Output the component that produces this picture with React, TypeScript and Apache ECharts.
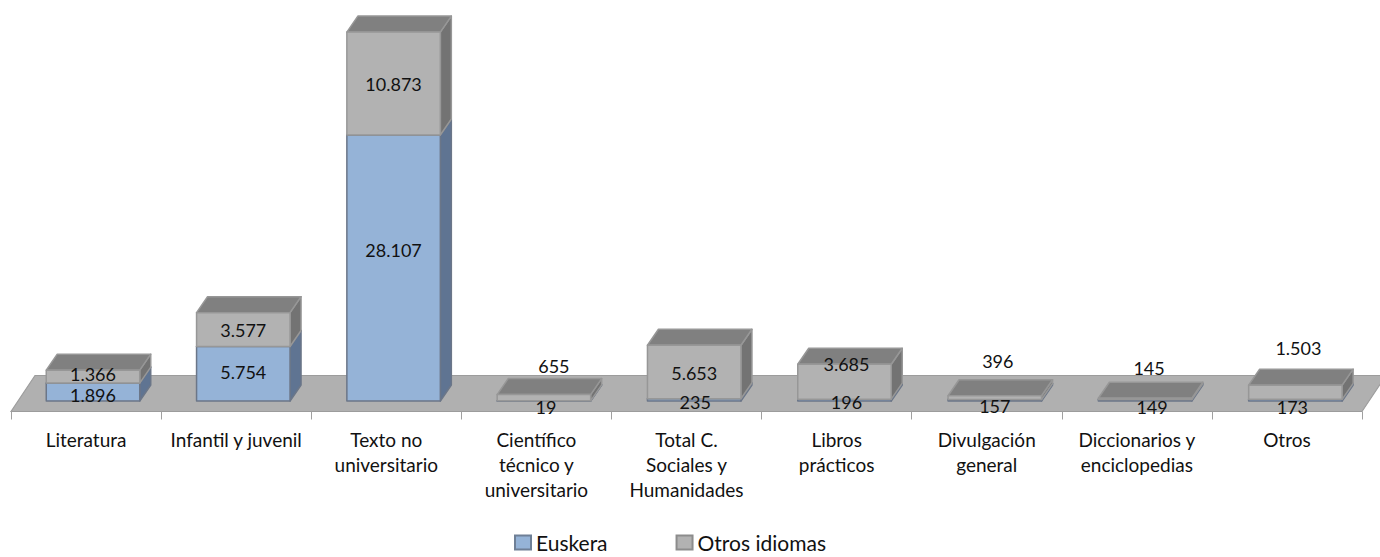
import React, { useEffect, useRef } from "react";
import * as echarts from "echarts";

const categories = [
  "Literatura",
  "Infantil y juvenil",
  "Texto no\nuniversitario",
  "Científico\ntécnico y\nuniversitario",
  "Total C.\nSociales y\nHumanidades",
  "Libros\nprácticos",
  "Divulgación\ngeneral",
  "Diccionarios y\nenciclopedias",
  "Otros",
];
const euskera = [1896, 5754, 28107, 19, 235, 196, 157, 149, 173];
const otros = [1366, 3577, 10873, 655, 5653, 3685, 396, 145, 1503];

// hand-placed label nudges (px from the centre of each segment's front face)
const euskeraNudgeX = [0, 0, 0, 2, 1, 2, 0, 7, -3];
const euskeraNudgeY = [3, -2, -18, 6, 2, 2, 6, 7, 7];
const otrosNudgeX = [0, 0, 0, 10, 0, 2, 3, 4, 3];
const otrosNudgeY = [-2.5, 0, 0, -32, 1, -18, -37, -31, -44];

const FONT = "Lato";
const DEPTH_X = 11;
const DEPTH_Y = -16;
const BAR_RATIO = 0.622;

const fmt = (v: number) => String(v).replace(/\B(?=(\d{3})+$)/g, ".");

const makeRender =
  (
    values: number[],
    bases: number[],
    nudgeX: number[],
    nudgeY: number[],
    front: string,
    side: string,
    top: string,
    stroke: string
  ) =>
  (params: any, api: any) => {
    const i = params.dataIndex;
    const base = bases[i];
    const val = values[i];
    const p0 = api.coord([api.value(0), base]);
    const p1 = api.coord([api.value(0), base + val]);
    const w = api.size([1, 0])[0] * BAR_RATIO;
    const l = p0[0] - w / 2;
    const r = p0[0] + w / 2;
    const yB = p0[1];
    const yT = p1[1];
    const dx = DEPTH_X;
    const dy = DEPTH_Y;
    const st = { stroke, lineWidth: 1.5, lineJoin: "round" };
    return {
      type: "group",
      children: [
        {
          type: "polygon",
          shape: { points: [[r, yB], [r + dx, yB + dy], [r + dx, yT + dy], [r, yT]] },
          style: { fill: side, ...st },
        },
        {
          type: "polygon",
          shape: { points: [[l, yT], [r, yT], [r + dx, yT + dy], [l + dx, yT + dy]] },
          style: { fill: top, ...st },
        },
        {
          type: "polygon",
          shape: { points: [[l, yB], [r, yB], [r, yT], [l, yT]] },
          style: { fill: front, ...st },
        },
        {
          type: "text",
          z2: 100,
          style: {
            x: p0[0] + nudgeX[i],
            y: (yB + yT) / 2 + nudgeY[i],
            text: fmt(val),
            fill: "#111111",
            font: `18px ${FONT}`,
            align: "center",
            verticalAlign: "middle",
          },
        },
      ],
    };
  };

export default function App() {
  const ref = useRef<HTMLDivElement>(null);
  useEffect(() => {
    document.body.style.margin = "0";
    const chart = echarts.init(ref.current!, undefined, { renderer: "svg" });
    const zeros = euskera.map(() => 0);
    chart.setOption({
      animation: false,
      backgroundColor: "#ffffff",
      textStyle: { fontFamily: FONT },
      grid: [
        { left: 17.85, width: 1352.7, top: 22.4, height: 378.6 },
        { left: 11, width: 1351, top: 300, height: 111.5 },
      ],
      xAxis: [
        { type: "category", gridIndex: 0, data: categories, show: false },
        {
          type: "category",
          gridIndex: 1,
          data: categories,
          axisLine: { show: false },
          axisTick: { show: true, length: 8, lineStyle: { color: "#a0a0a0", width: 1 } },
          axisLabel: {
            interval: 0,
            margin: 15,
            fontFamily: FONT,
            fontSize: 19,
            lineHeight: 25,
            color: "#111111",
          },
        },
      ],
      yAxis: [
        { type: "value", gridIndex: 0, min: 0, max: 40000, show: false },
        { type: "value", gridIndex: 1, min: 0, max: 1, show: false },
      ],
      legend: {
        left: 509,
        top: 527,
        itemWidth: 16,
        itemHeight: 14,
        itemGap: 68,
        icon: "rect",
        data: ["Euskera", "Otros idiomas"],
        textStyle: { fontFamily: FONT, fontSize: 21, color: "#111111" },
        selectedMode: false,
      },
      graphic: {
        elements: [
          {
            type: "polygon",
            z: 0,
            silent: true,
            shape: { points: [[11, 411.5], [35, 375.5], [1386, 375.5], [1362, 411.5]] },
            style: { fill: "#b0b0b0", stroke: "#9c9c9c", lineWidth: 1.2 },
          },
        ],
      },
      series: [
        {
          name: "Euskera",
          type: "custom",
          xAxisIndex: 0,
          yAxisIndex: 0,
          clip: false,
          z: 3,
          itemStyle: { color: "#95b3d7", borderColor: "#6e7f96", borderWidth: 1.2 },
          data: euskera.map((v, i) => [i, v]),
          encode: { x: 0, y: 1 },
          renderItem: makeRender(euskera, zeros, euskeraNudgeX, euskeraNudgeY, "#95b3d7", "#5f7492", "#6f8cb0", "#6b7688"),
        },
        {
          name: "Otros idiomas",
          type: "custom",
          xAxisIndex: 0,
          yAxisIndex: 0,
          clip: false,
          z: 3,
          itemStyle: { color: "#b2b2b2", borderColor: "#8c8c8c", borderWidth: 1.2 },
          data: otros.map((v, i) => [i, v]),
          encode: { x: 0, y: 1 },
          renderItem: makeRender(otros, euskera, otrosNudgeX, otrosNudgeY, "#b2b2b2", "#737373", "#808080", "#979797"),
        },
      ],
    });
    return () => chart.dispose();
  }, []);
  return <div ref={ref} style={{ width: 1380, height: 557 }} />;
}
